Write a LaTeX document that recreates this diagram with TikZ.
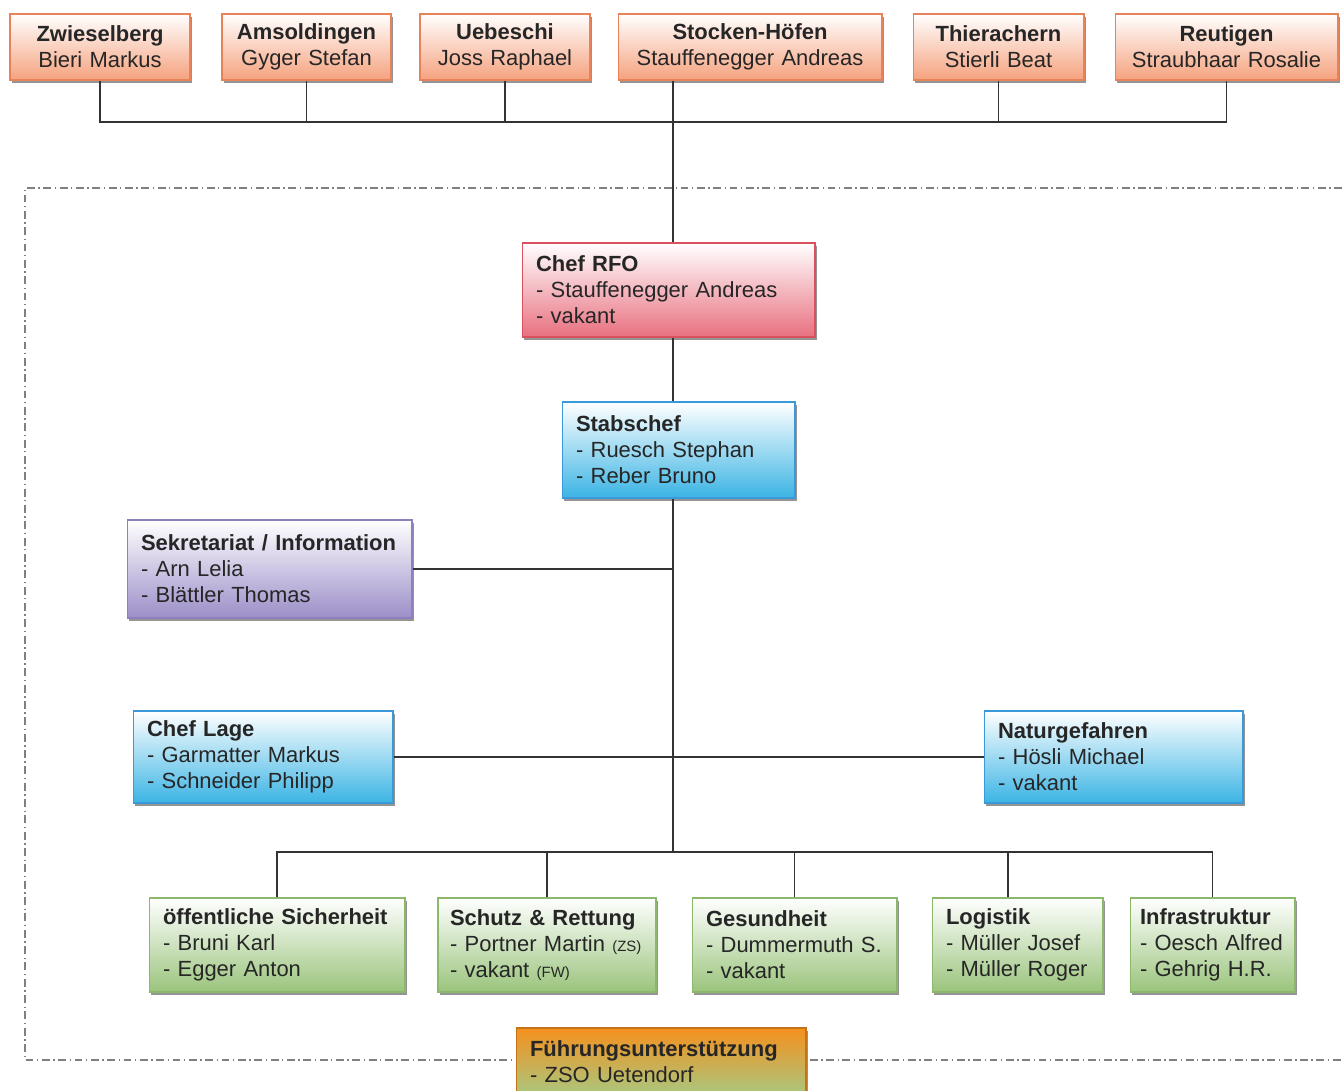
\documentclass[tikz,border=0pt]{standalone}
\usepackage{fontspec}
\setmainfont{Liberation Sans}
\usetikzlibrary{shadows}
\definecolor{gemline}{HTML}{E8825A}\definecolor{gembot}{HTML}{F5A27E}
\definecolor{rfoline}{HTML}{D9505F}\definecolor{rfobot}{HTML}{E8707F}
\definecolor{bluline}{HTML}{3A9AD9}\definecolor{blubot}{HTML}{3BB4E4}
\definecolor{purline}{HTML}{8E80BC}\definecolor{purbot}{HTML}{9C8EC8}
\definecolor{grnline}{HTML}{8CB86C}\definecolor{grnbot}{HTML}{9AC47C}
\definecolor{futop}{HTML}{F5901E}\definecolor{fubot}{HTML}{A8C880}
\begin{document}
\begin{tikzpicture}[x=0.02cm,y=-0.02cm,font=\fontsize{12.5}{14.8}\selectfont,
	box/.style={draw,line width=0.6pt,inner xsep=0.28cm,inner ysep=0pt,text=black!85,
		execute at begin node={\hyphenpenalty=10000},
		drop shadow={shadow xshift=1.2pt,shadow yshift=-1.5pt,fill=black!60,opacity=0.7}},
	gem/.style={box,draw=gemline,top color=white,bottom color=gembot,align=center,minimum height=1.32cm},
	rfo/.style={box,draw=rfoline,top color=white,bottom color=rfobot,align=left},
	blu/.style={box,draw=bluline,top color=white,bottom color=blubot,align=left},
	pur/.style={box,draw=purline,top color=white,bottom color=purbot,align=left},
	grn/.style={box,draw=grnline,top color=white,bottom color=grnbot,align=left,minimum height=1.88cm},
	line/.style={line width=0.7pt,black!80}]
	\useasboundingbox (0,0) rectangle (1342,1091);
	\draw[gray,line width=0.7pt,dash pattern=on 4.5pt off 2pt on 0.8pt off 2pt] (1342,188)--(25,188)--(25,1060)--(1342,1060);
	\node[gem,text width=3.04cm] (zw) at (100,47) {\textbf{Zwieselberg}\\Bieri Markus};
	\node[gem,text width=2.82cm] (am) at (306.5,47) {\textbf{Amsoldingen}\\Gyger Stefan};
	\node[gem,text width=2.84cm] (ue) at (505,47) {\textbf{Uebeschi}\\Joss Raphael};
	\node[gem,text width=4.72cm] (st) at (750,47) {\textbf{Stocken-Höfen}\\Stauffenegger Andreas};
	\node[gem,text width=2.86cm] (th) at (998.5,47) {\textbf{Thierachern}\\Stierli Beat};
	\node[gem,text width=3.9cm] (re) at (1226.5,47) {\textbf{Reutigen}\\Straubhaar Rosalie};
	\node[rfo,text width=5.3cm,minimum height=1.88cm] (chef) at (668.5,290) {\textbf{Chef RFO}\\- Stauffenegger Andreas\\- vakant};
	\node[blu,text width=4.1cm,minimum height=1.92cm] (stab) at (678.5,450) {\textbf{Stabschef}\\- Ruesch Stephan\\- Reber Bruno};
	\node[pur,text width=5.14cm,minimum height=1.96cm] (sek) at (269.5,569) {\textbf{Sekretariat / Information}\\- Arn Lelia\\- Blättler Thomas};
	\node[blu,text width=4.64cm,minimum height=1.84cm] (lage) at (263,757) {\textbf{Chef Lage}\\- Garmatter Markus\\- Schneider Philipp};
	\node[blu,text width=4.62cm,minimum height=1.84cm] (natur) at (1113.5,757) {\textbf{Naturgefahren}\\- Hösli Michael\\- vakant};
	\node[grn,text width=4.56cm] (oes) at (277,945) {\textbf{öffentliche Sicherheit}\\- Bruni Karl\\- Egger Anton};
	\node[grn,inner xsep=0.24cm,text width=3.88cm] (schutz) at (547,945) {\textbf{Schutz \& Rettung}\\- Portner Martin {\fontsize{8.5}{10}\selectfont(ZS)}\\- vakant {\fontsize{8.5}{10}\selectfont(FW)}};
	\node[grn,text width=3.54cm] (ges) at (794.5,945) {\textbf{Gesundheit}\\- Dummermuth S.\\- vakant};
	\node[grn,text width=2.86cm] (log) at (1017.5,945) {\textbf{Logistik}\\- Müller Josef\\- Müller Roger};
	\node[grn,inner xsep=0.2cm,text width=2.9cm] (infra) at (1212.5,945) {\textbf{Infrastruktur}\\- Oesch Alfred\\- Gehrig H.R.};
	\node[box,draw=futop!80!black,top color=futop,bottom color=fubot,align=left,text width=5.24cm,minimum height=1.36cm] (fu) at (661,1062) {\textbf{Führungsunterstützung}\\- ZSO Uetendorf};
	\coordinate (bus) at (673,122);
	\coordinate (busb) at (673,852);
	\draw[line] (zw.south) |- (bus) -| (re.south);
	\foreach \n in {am,ue,th} \draw[line] (\n.south) -- (\n.south |- bus);
	\draw[line] (st.south -| bus) -- (chef.north -| bus);
	\draw[line] (chef.south -| bus) -- (stab.north -| bus);
	\draw[line] (stab.south -| bus) -- (busb);
	\draw[line] (sek.east) -- (sek.east -| bus);
	\draw[line] (lage.east) -- (natur.west);
	\draw[line] (oes.north) |- (busb) -| (infra.north);
	\foreach \n in {schutz,ges} \draw[line] (\n.north) -- (\n.north |- busb);
	\draw[line] ([xshift=-0.19cm]log.north) -- ([xshift=-0.19cm]log.north |- busb);
\end{tikzpicture}
\end{document}
